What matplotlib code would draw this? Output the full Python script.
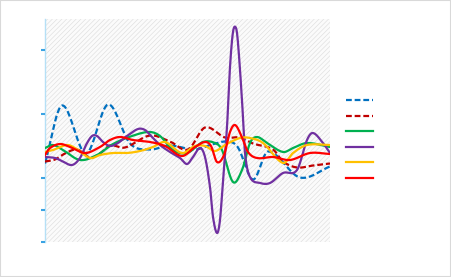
import numpy as np
import matplotlib
matplotlib.use("Agg")
import matplotlib.pyplot as plt
from matplotlib.patches import Rectangle

# ---- data (x: time index, y: value) ----
blue_x = [0, 17, 41, 63, 85, 105, 125, 150, 167, 183, 193, 208, 223, 255, 285]
blue_y = [78, 136, 88, 137, 98, 92, 96, 92, 97, 100, 94, 62, 90, 64, 75]

darkred_x = [0, 10, 20, 32, 45, 55, 65, 80, 105, 125, 143, 160, 180, 195, 208, 228, 238, 252, 268, 285]
darkred_y = [80, 82, 88, 92, 84, 88, 96, 94, 106, 100, 92, 114, 104, 104, 98, 92, 80, 74, 76, 78]

green_x = [0, 8, 18, 35, 52, 68, 90, 105, 115, 128, 142, 158, 170, 177, 188, 197, 205, 212, 222, 238, 248, 262, 285]
green_y = [93.5, 96.5, 91.5, 81.5, 86.5, 97.5, 106.5, 109.5, 105.5, 91.5, 88.5, 99.5, 98.5, 91.5, 59.5, 71.5, 98.5, 104.5, 98.5, 89.5, 93.5, 98.5, 94.5]

purple_x = [0, 10, 17, 27, 35, 41, 47, 52, 58, 65, 73, 82, 93, 100, 107, 115, 125, 135, 142, 148, 155, 160, 165, 168, 172, 175, 178, 182, 185, 188, 191, 193, 197, 200, 205, 215, 225, 238, 252, 262, 268, 278, 285]
purple_y = [84.5, 83.5, 80.5, 76.5, 83.5, 96.5, 105.5, 105.5, 99.5, 95.5, 98.5, 105.5, 112.5, 111.5, 104.5, 96.5, 89.5, 83.5, 77.5, 84.5, 93.5, 84.5, 54.5, 24.5, 8.5, 21.5, 61.5, 114.5, 174.5, 209.5, 213.5, 198.5, 141.5, 88.5, 64.5, 58.5, 58.5, 68.5, 71.5, 101.5, 108.5, 98.5, 88.5]

yellow_x = [0, 8, 22, 30, 45, 55, 68, 82, 95, 108, 120, 137, 150, 160, 170, 180, 195, 205, 218, 238, 248, 262, 285]
yellow_y = [89.5, 91.5, 96.5, 93.5, 83.5, 86.5, 88.5, 88.5, 90.5, 94.5, 99.5, 88.5, 95.5, 95.5, 90.5, 96.5, 103.5, 103.5, 98.5, 78.5, 88.5, 96.5, 96.5]

red_x = [0, 5, 15, 25, 40, 55, 65, 75, 88, 105, 120, 137, 150, 160, 166, 172, 179, 185, 190, 196, 203, 212, 228, 245, 265, 285]
red_y = [86.5, 93.5, 97.5, 94.5, 88.5, 94.5, 101.5, 104.5, 101.5, 99.5, 95.5, 85.5, 94.5, 99.5, 95.5, 79.5, 86.5, 109.5, 116.5, 106.5, 89.5, 83.5, 84.5, 81.5, 88.5, 87.5]

series = [
    (blue_x, blue_y, "#0070c0", "dash"),
    (darkred_x, darkred_y, "#c00000", "dash"),
    (green_x, green_y, "#00b050", "solid"),
    (purple_x, purple_y, "#7030a0", "solid"),
    (yellow_x, yellow_y, "#ffc000", "solid"),
    (red_x, red_y, "#ff0000", "solid"),
]
y_ticks = [0, 32, 64, 128, 192]


def smooth(x, y, n=24):
    x = np.asarray(x, float)
    y = np.asarray(y, float)
    m = np.empty_like(y)
    m[1:-1] = (y[2:] - y[:-2]) / (x[2:] - x[:-2])
    m[0] = (y[1] - y[0]) / (x[1] - x[0])
    m[-1] = (y[-1] - y[-2]) / (x[-1] - x[-2])
    xs, ys = [], []
    for i in range(len(x) - 1):
        h = x[i + 1] - x[i]
        t = np.linspace(0, 1, n, endpoint=(i == len(x) - 2))
        h00 = 2 * t**3 - 3 * t**2 + 1
        h10 = t**3 - 2 * t**2 + t
        h01 = -2 * t**3 + 3 * t**2
        h11 = t**3 - t**2
        xs.append(x[i] + t * h)
        ys.append(h00 * y[i] + h10 * h * m[i] + h01 * y[i + 1] + h11 * h * m[i + 1])
    return np.concatenate(xs), np.concatenate(ys)


W, H = 451, 277
fig = plt.figure(figsize=(W / 100, H / 100), dpi=100)
fig.patch.set_facecolor("white")
ax = fig.add_axes([45 / W, (H - 241.5) / H, 285 / W, 222.5 / H])

plt.rcParams["hatch.color"] = "#dedede"
plt.rcParams["hatch.linewidth"] = 0.45
ax.set_facecolor("white")
ax.add_patch(Rectangle((0, 0), 1, 1, transform=ax.transAxes, facecolor="#fbfbfb",
                       edgecolor="#dedede", hatch="///////", lw=0, zorder=0))

handles = []
for xs_, ys_, col, style in series:
    sx, sy = smooth(xs_, ys_)
    if style == "dash":
        ln, = ax.plot(sx, sy, color=col, lw=1.6, dashes=(2.6, 1.3), zorder=3)
    else:
        ln, = ax.plot(sx, sy, color=col, lw=1.6, zorder=3)
    handles.append(ln)

ax.set_xlim(0, 285)
ax.set_ylim(0, 222.5)
ax.set_xticks([])
ax.set_yticks(y_ticks)
ax.set_yticklabels([])
ax.tick_params(axis="y", direction="out", length=3, width=1.5, color="#3aa3e3")
for s in ["top", "right", "bottom"]:
    ax.spines[s].set_visible(False)
ax.spines["left"].set_color("#b5e0f6")
ax.spines["left"].set_linewidth(1.0)
ax.spines["left"].set_zorder(1)

leg = fig.legend(handles, [""] * len(handles), loc="upper left",
                 bbox_to_anchor=(346 / W, 1 - 96 / H), frameon=False,
                 fontsize=8, handlelength=2.45, handletextpad=0.0,
                 labelspacing=0.5, borderpad=0, borderaxespad=0)

fig.add_artist(Rectangle((0, 0), 1, 1, transform=fig.transFigure, fill=False,
                         edgecolor="#d9d9d9", lw=1.5))

fig.savefig("out.png", dpi=100)
